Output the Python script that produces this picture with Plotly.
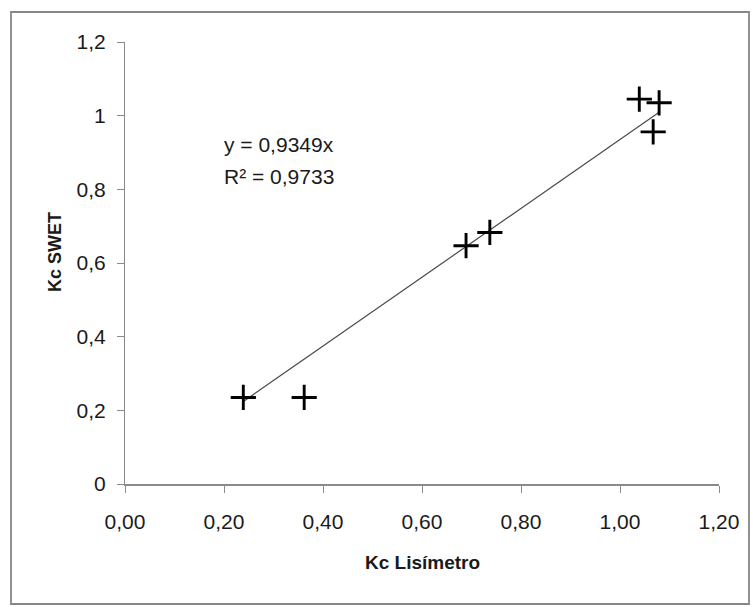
import plotly.graph_objects as go

# Data
kc_lisimetro = [0.239, 0.362, 0.689, 0.737, 1.039, 1.079, 1.067]
kc_swet = [0.235, 0.235, 0.647, 0.683, 1.045, 1.035, 0.956]

# Trendline (y = 0,9349x) endpoints
trend_x = [0.239, 1.079]
trend_y = [0.224, 1.009]

x_tickvals = [0.0, 0.2, 0.4, 0.6, 0.8, 1.0, 1.2]
x_ticktext = ["0,00", "0,20", "0,40", "0,60", "0,80", "1,00", "1,20"]
y_tickvals = [0.0, 0.2, 0.4, 0.6, 0.8, 1.0, 1.2]
y_ticktext = ["0", "0,2", "0,4", "0,6", "0,8", "1", "1,2"]

equation_text = "y = 0,9349x"
r2_text = "R² = 0,9733"
x_title = "Kc Lisímetro"
y_title = "Kc SWET"

FONT = "Liberation Sans, Arial, sans-serif"
TXT = "#1a1a1a"
W, H = 753, 607
L, R, T, B = 125, 34, 42, 123
pw, ph = W - L - R, H - T - B


def px_to_paper_x(px):
    return (px - L) / pw


def px_to_paper_y(py):
    return (H - B - py) / ph


fig = go.Figure()

fig.add_trace(go.Scatter(
    x=trend_x, y=trend_y, mode="lines",
    line=dict(color="#4a4a4a", width=1.2),
    hoverinfo="skip", showlegend=False,
))

fig.add_trace(go.Scatter(
    x=kc_lisimetro, y=kc_swet, mode="markers",
    marker=dict(symbol="cross-thin", size=18, color="black",
                line=dict(color="black", width=2.9)),
    showlegend=False,
))

axis_common = dict(
    showgrid=False, zeroline=False, showline=True,
    linecolor="#8a8a8a",
    ticks="outside", ticklen=7, tickcolor="#8a8a8a", tickwidth=1,
    tickfont=dict(family=FONT, size=21, color=TXT),
    fixedrange=True,
)

fig.update_xaxes(range=[0, 1.2], tickvals=x_tickvals, ticktext=x_ticktext,
                 ticklabelstandoff=11, linewidth=1.7, **axis_common)
fig.update_yaxes(range=[0, 1.2], tickvals=y_tickvals, ticktext=y_ticktext,
                 ticklabelstandoff=7, linewidth=1.2, **axis_common)

annotations = [
    dict(text=equation_text, x=px_to_paper_x(222), y=px_to_paper_y(144),
         xref="paper", yref="paper", xanchor="left", yanchor="middle",
         showarrow=False, font=dict(family=FONT, size=21, color=TXT)),
    dict(text=r2_text, x=px_to_paper_x(222), y=px_to_paper_y(176),
         xref="paper", yref="paper", xanchor="left", yanchor="middle",
         showarrow=False, font=dict(family=FONT, size=21, color=TXT)),
    dict(text="<b>" + x_title + "</b>", x=px_to_paper_x(422), y=px_to_paper_y(562),
         xref="paper", yref="paper", xanchor="center", yanchor="middle",
         showarrow=False, font=dict(family=FONT, size=19, color=TXT)),
    dict(text="<b>" + y_title + "</b>", x=px_to_paper_x(55), y=px_to_paper_y(252),
         xref="paper", yref="paper", xanchor="center", yanchor="middle",
         textangle=-90, showarrow=False,
         font=dict(family=FONT, size=18, color=TXT)),
]

shapes = [
    dict(type="rect", xref="paper", yref="paper",
         x0=px_to_paper_x(11), x1=px_to_paper_x(749),
         y0=px_to_paper_y(604), y1=px_to_paper_y(12),
         line=dict(color="#868686", width=1.8), fillcolor="rgba(0,0,0,0)",
         layer="below"),
]

fig.update_layout(
    width=W, height=H,
    margin=dict(l=L, r=R, t=T, b=B, autoexpand=False),
    paper_bgcolor="white", plot_bgcolor="white",
    annotations=annotations, shapes=shapes,
    showlegend=False,
)

fig.write_html(
    "out.html",
    config={"displayModeBar": False},
    post_script="document.body.style.margin='0';document.body.style.overflow='hidden';",
)
